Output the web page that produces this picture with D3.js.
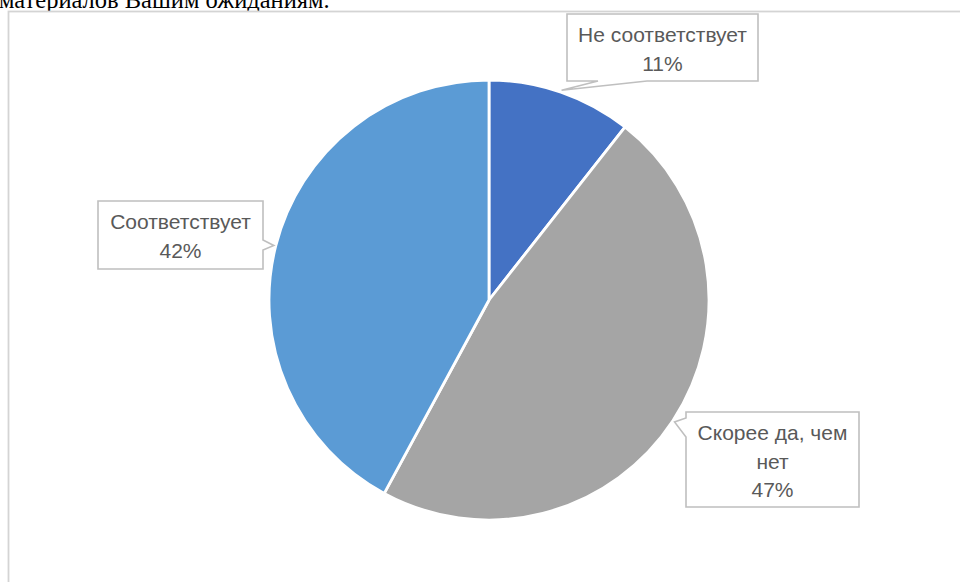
<!DOCTYPE html>
<html>
<head>
<meta charset="utf-8">
<script src="https://cdn.jsdelivr.net/npm/d3@7"></script>
<style>
  html, body { margin: 0; padding: 0; background: #fff; }
  svg { display: block; }
</style>
</head>
<body>
<svg id="chart" width="960" height="582"></svg>
<script>
// data
var categories = ['Не соответствует', 'Скорее да, чем нет', 'Соответствует'];
var values = [10.6, 47.3, 42.1];
var colors = ['#4472C4', '#A5A5A5', '#5B9BD5'];
var labelLines = [['Не соответствует'], ['Скорее да, чем', 'нет'], ['Соответствует']];

// callout boxes (left, top, width, height, side of the pointer, base along that side)
var callouts = [
  { x: 567, y: 14, w: 191, h: 67, side: 'bottom', b0: 31, b1: 80 },
  { x: 686, y: 412, w: 173, h: 95, side: 'left', b0: 6, b1: 25 },
  { x: 98, y: 201, w: 165, h: 68, side: 'right', b0: 39, b1: 49 }
];

var svg = d3.select('#chart');

// text above the chart area (cut off at the top)
svg.append('text')
  .attr('x', -1)
  .attr('y', 8)
  .attr('font-family', 'Liberation Serif, Times New Roman, serif')
  .attr('font-size', 24.5)
  .attr('fill', '#000')
  .text('материалов Вашим ожиданиям.');

// chart frame
svg.append('rect')
  .attr('x', 8.5)
  .attr('y', 11.5)
  .attr('width', 1000)
  .attr('height', 1000)
  .attr('fill', '#fff')
  .attr('stroke', '#d4d4d4')
  .attr('stroke-width', 1.8);

var cx = 489, cy = 300, radius = 220;

var pie = d3.pie().sort(null).value(function(d) { return d; });
var arcs = pie(values);

var arc = d3.arc().innerRadius(0).outerRadius(radius);
var tipArc = d3.arc().innerRadius(radius + 2).outerRadius(radius + 2);

var g = svg.append('g').attr('transform', 'translate(' + cx + ',' + cy + ')');

g.selectAll('.slice')
  .data(arcs)
  .enter()
  .append('path')
  .attr('class', 'slice')
  .attr('d', arc)
  .attr('fill', function(d, i) { return colors[i]; })
  .attr('stroke', '#fff')
  .attr('stroke-width', 2.8)
  .attr('stroke-linejoin', 'round');

// callouts
var fmt = function(v) { return Math.round(v) + '%'; };

arcs.forEach(function(d, i) {
  var c = callouts[i];
  var tip = tipArc.centroid(d);
  var tx = tip[0] + cx, ty = tip[1] + cy;
  var l = c.x, t = c.y, r = c.x + c.w, b = c.y + c.h;
  var pts;
  if (c.side === 'bottom') {
    pts = [[l, t], [r, t], [r, b], [l + c.b1, b], [tx, ty], [l + c.b0, b], [l, b]];
  } else if (c.side === 'left') {
    pts = [[l, t], [r, t], [r, b], [l, b], [l, t + c.b1], [tx, ty], [l, t + c.b0]];
  } else {
    pts = [[l, t], [r, t], [r, t + c.b0], [tx, ty], [r, t + c.b1], [r, b], [l, b]];
  }
  svg.append('path')
    .attr('d', d3.line()(pts) + 'Z')
    .attr('fill', '#fff')
    .attr('stroke', '#bfbfbf')
    .attr('stroke-width', 1.6)
    .attr('stroke-linejoin', 'miter');

  var lines = labelLines[i].concat([fmt(values[i])]);
  var text = svg.append('text')
    .attr('font-family', 'Liberation Sans, Arial, sans-serif')
    .attr('font-size', 21)
    .attr('fill', '#595959')
    .attr('text-anchor', 'middle');
  lines.forEach(function(line, k) {
    text.append('tspan')
      .attr('x', c.x + c.w / 2)
      .attr('y', c.y + 28 + k * 28.5)
      .text(line);
  });
});
</script>
</body>
</html>
